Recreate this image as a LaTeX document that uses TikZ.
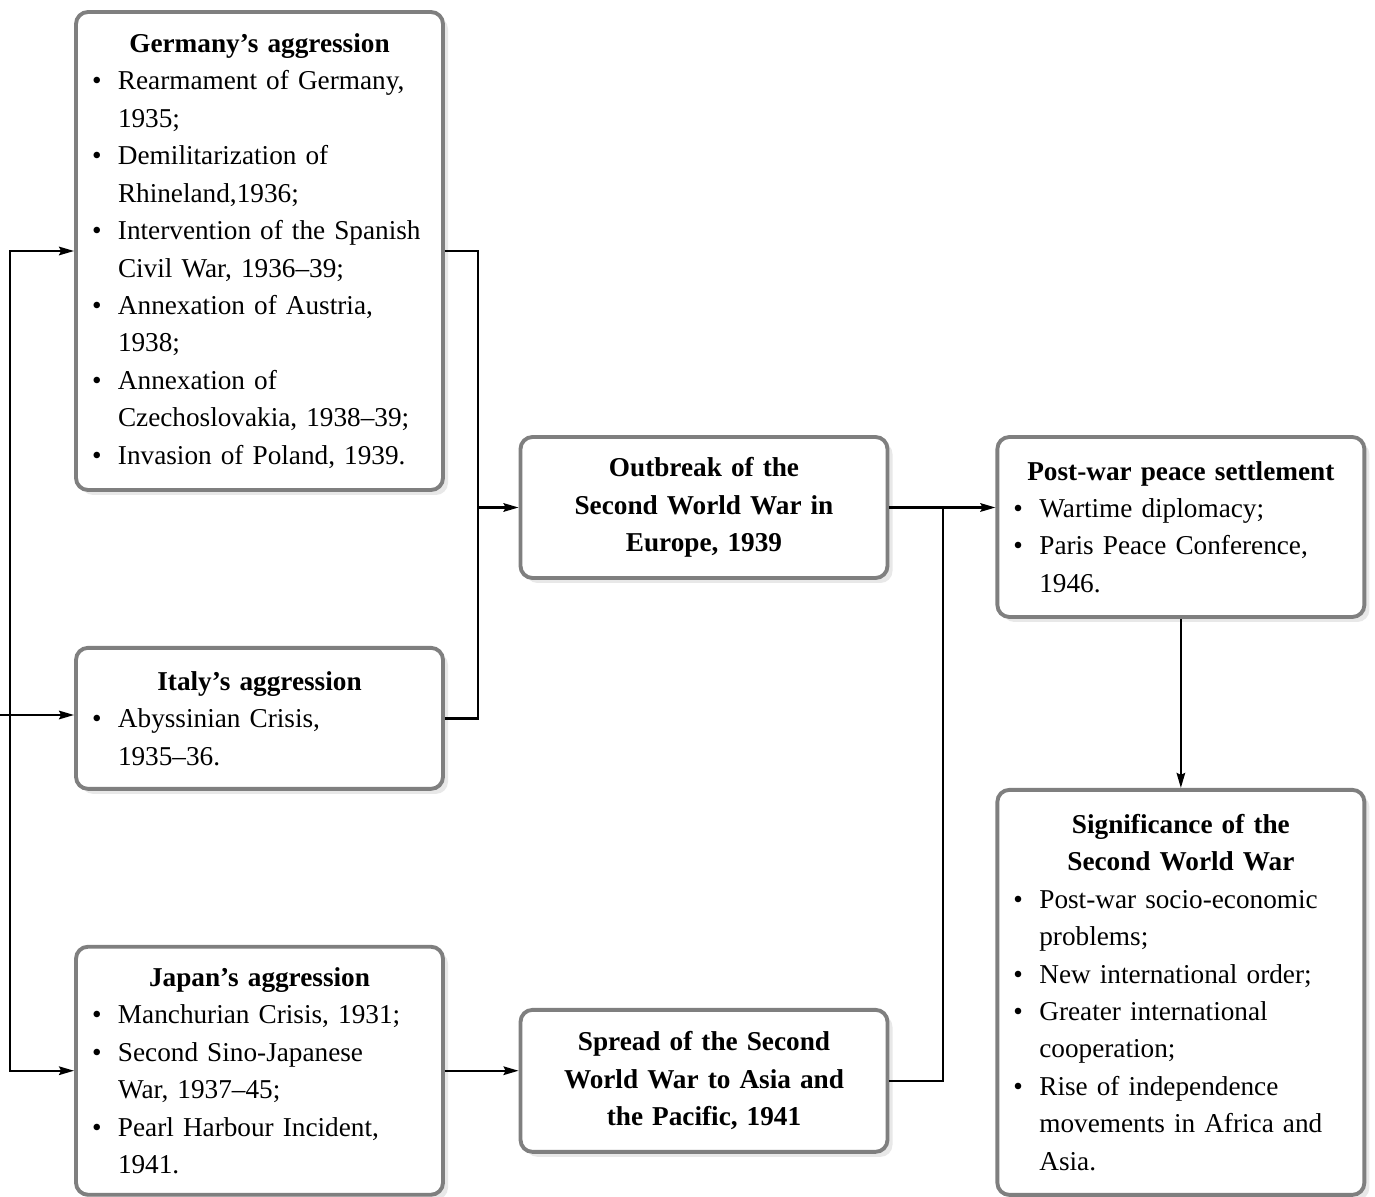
\documentclass[tikz,border=0pt]{standalone}
\usepackage{fontspec}
\setmainfont{Liberation Serif}
\usetikzlibrary{arrows.meta,positioning,shadows}
\definecolor{boxgray}{HTML}{7F7F7F}
\setlength{\parindent}{0pt}
\newcommand{\head}[1]{{\centering\bfseries #1\par}}
\newcommand{\nl}{\hfil\break}
\newcommand{\bitem}[1]{\hangindent=0.52cm\hangafter=1\noindent\makebox[0.52cm][l]{\textbullet}#1\par}

\begin{document}
\begin{tikzpicture}[>={Stealth[length=3mm,width=1.7mm,inset=0.4mm]},node distance=3.08cm,line width=1.3pt]
  \tikzstyle{box}=[draw=boxgray,line width=2.2pt,rounded corners=0.24cm,fill=white,
    drop shadow={opacity=0.18,shadow xshift=0.1cm,shadow yshift=-0.1cm},
    text width=6.7cm,inner xsep=0.32cm,align=left,
    font=\fontsize{15.5}{21.3}\selectfont]
  \tikzstyle{title box}=[box,align=center,font=\fontsize{15.5}{21.3}\selectfont\bfseries]
\useasboundingbox (0,0) rectangle (27.5,-23.94);
% causes
\node[box,minimum height=9.56cm] (germ) at (5.19,-5.02) {\head{Germany's aggression}
  \bitem{Rearmament of Germany,\nl 1935;}
  \bitem{Demilitarization of\nl Rhineland,1936;}
  \bitem{Intervention of the Spanish\nl Civil War, 1936--39;}
  \bitem{Annexation of Austria,\nl 1938;}
  \bitem{Annexation of\nl Czechoslovakia, 1938--39;}
  \bitem{Invasion of Poland, 1939.}};
\node[box,minimum height=2.82cm] (italy) [below=of germ] {\head{Italy's aggression}
  \bitem{Abyssinian Crisis,\nl 1935--36.}};
\node[box,minimum height=4.96cm] (japan) [below=of italy] {\head{Japan's aggression}
  \bitem{Manchurian Crisis, 1931;}
  \bitem{Second Sino-Japanese\nl War, 1937--45;}
  \bitem{Pearl Harbour Incident,\nl 1941.}};
% war
\node[title box,minimum height=2.82cm] (outbreak) at (14.08,-10.15) {Outbreak of the\\ Second World War in\\ Europe, 1939};
\node[title box,minimum height=2.84cm] (spread) [below=8.56cm of outbreak] {Spread of the Second\\ World War to Asia and\\ the Pacific, 1941};
% results
\node[box,minimum height=3.6cm] (post) [right=2.12cm of outbreak.north east,anchor=north west] {\head{Post-war peace settlement}
  \bitem{Wartime diplomacy;}
  \bitem{Paris Peace Conference,\nl 1946.}};
\node[box,minimum height=8.1cm] (signif) [below=3.38cm of post] {\head{Significance of the\\ Second World War}
  \bitem{Post-war socio-economic\nl problems;}
  \bitem{New international order;}
  \bitem{Greater international\nl cooperation;}
  \bitem{Rise of independence\nl movements in Africa and\nl Asia.}};

\coordinate (feed) at (0,-14.3);
\coordinate (bus) at (0.2,0);
\coordinate (join) at (9.56,0);
\coordinate (merge) at (18.86,0);

\draw[<->] (germ.west) -- (bus |- germ.west) -- (bus |- japan.west) -- (japan.west);
\draw[->] (feed) -- (feed -| italy.west);
\draw (germ.east) -- (join |- germ.east) -- (join |- italy.east) -- (italy.east);
\draw[->] (join |- outbreak.west) -- (outbreak.west);
\draw[->] (japan.east) -- (japan.east -| spread.west);
\draw[->] (outbreak.east) -- (outbreak.east -| post.west);
\draw (spread.east) -| (merge |- outbreak.east);
\draw[->] (post.south) -- (signif.north);
\end{tikzpicture}
\end{document}
